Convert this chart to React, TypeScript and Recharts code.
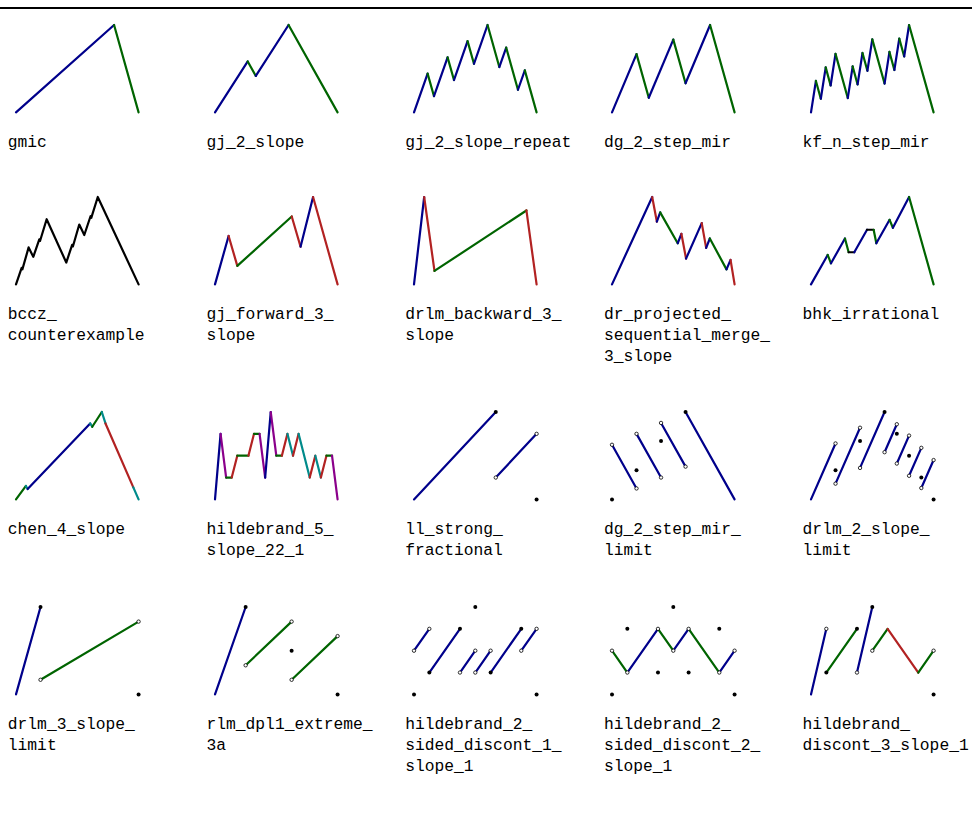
import { ComposedChart, Line, Scatter, XAxis, YAxis } from "recharts";

type P = [number, number];
type S = [number, number, number, number];

// slope classes: a blue, b green, c red, d teal, e purple, k black
const COLORS: Record<string, string> = {
  a: "#00008b",
  b: "#006400",
  c: "#b22222",
  d: "#008b8b",
  e: "#8b008b",
  k: "#000000",
};

// ---- continuous functions: breakpoints + slope class of each piece ----
const gmicPts: P[] = [[0, 0], [0.8, 1], [1, 0]];
const gmicCls = "ab";

const gj2Pts: P[] = [[0, 0], [0.267, 0.583], [0.333, 0.417], [0.6, 1], [1, 0]];
const gj2Cls = "abab";

const gj2RepPts: P[] = [
  [0, 0], [0.111, 0.444], [0.163, 0.185], [0.274, 0.63], [0.326, 0.37],
  [0.437, 0.815], [0.489, 0.556], [0.6, 1], [0.696, 0.519], [0.752, 0.741],
  [0.848, 0.259], [0.904, 0.481], [1, 0],
];
const gj2RepCls = "abababababab";

const dg2Pts: P[] = [[0, 0], [0.2, 0.667], [0.3, 0.167], [0.5, 0.833], [0.6, 0.333], [0.8, 1], [1, 0]];
const dg2Cls = "ababab";

const kfPts: P[] = [
  [0, 0], [0.04, 0.36], [0.08, 0.156], [0.12, 0.515], [0.16, 0.308], [0.2, 0.67],
  [0.3, 0.164], [0.34, 0.526], [0.38, 0.32], [0.42, 0.68], [0.46, 0.476], [0.5, 0.836],
  [0.6, 0.33], [0.64, 0.692], [0.68, 0.485], [0.72, 0.845], [0.76, 0.64], [0.8, 1], [1, 0],
];
const kfCls = "ababababababababab";

const bcczPts: P[] = [
  [0, 0], [0.046, 0.19], [0.052, 0.172], [0.103, 0.423], [0.141, 0.315],
  [0.19, 0.515], [0.196, 0.497], [0.25, 0.746], [0.41, 0.25], [0.458, 0.452],
  [0.464, 0.434], [0.516, 0.685], [0.557, 0.565], [0.608, 0.78], [0.614, 0.762],
  [0.667, 1], [1, 0],
];
const bcczCls = "kkkkkkkkkkkkkkkk";

const gjFwdPts: P[] = [[0, 0], [0.111, 0.554], [0.182, 0.212], [0.626, 0.777], [0.698, 0.431], [0.8, 1], [1, 0]];
const gjFwdCls = "acbcac";

const drlmBackPts: P[] = [[0, 0], [0.083, 1], [0.167, 0.154], [0.917, 0.846], [1, 0]];
const drlmBackCls = "acbc";

const drProjPts: P[] = [
  [0, 0], [0.328, 1], [0.366, 0.717], [0.393, 0.824], [0.536, 0.471], [0.566, 0.579],
  [0.604, 0.295], [0.732, 0.701], [0.768, 0.418], [0.798, 0.525], [0.934, 0.172],
  [0.967, 0.28], [1, 0],
];
const drProjCls = "acabacacabac";

const bhkPts: P[] = [
  [0, 0], [0.136, 0.337], [0.163, 0.241], [0.277, 0.525], [0.307, 0.368], [0.353, 0.368],
  [0.457, 0.625], [0.511, 0.625], [0.533, 0.471], [0.641, 0.739], [0.668, 0.648], [0.8, 1], [1, 0],
];
const bhkCls = "ababkakbabab";

const chenPts: P[] = [
  [0, 0], [0.081, 0.154], [0.095, 0.119], [0.605, 0.869], [0.622, 0.831],
  [0.7, 1], [0.73, 0.869], [0.957, 0.138], [1, 0],
];
const chenCls = "bdadbdcd";

const hb5X = [0, 1, 2, 3, 4, 6, 7, 8, 9, 10, 11, 12, 13, 14, 15, 17, 18, 19, 20, 21, 22];
const hb5Y = [0, 0.75, 0.25, 0.25, 0.5, 0.5, 0.75, 0.75, 0.25, 1, 0.5, 0.5, 0.75, 0.5, 0.75, 0.25, 0.5, 0.25, 0.5, 0.5, 0];
const hb5Cls = "aebcbcbeaebcdcdcdcbe";

// ---- discontinuous functions: pieces, closed dots, open dots ----
const llPieces: S[] = [[0, 0, 0.667, 1], [0.667, 0.25, 1, 0.75]];
const llCls = "aa";
const llClosed: P[] = [[0.667, 1], [1, 0]];
const llOpen: P[] = [[0.667, 0.25], [1, 0.75]];

const dgLimPieces: S[] = [[0, 0.625, 0.2, 0.125], [0.2, 0.75, 0.4, 0.25], [0.4, 0.875, 0.6, 0.375], [0.6, 1, 1, 0]];
const dgLimCls = "aaaa";
const dgLimClosed: P[] = [[0, 0], [0.2, 0.333], [0.4, 0.667], [0.6, 1]];
const dgLimOpen: P[] = [[0, 0.625], [0.2, 0.125], [0.2, 0.75], [0.4, 0.25], [0.4, 0.875], [0.6, 0.375]];

const drlm2Pieces: S[] = [
  [0, 0, 0.2, 0.64], [0.2, 0.18, 0.4, 0.82], [0.4, 0.36, 0.6, 1], [0.6, 0.54, 0.7, 0.86],
  [0.7, 0.41, 0.8, 0.73], [0.8, 0.27, 0.9, 0.59], [0.9, 0.13, 1, 0.45],
];
const drlm2Cls = "aaaaaaa";
const drlm2Closed: P[] = [[0.2, 0.333], [0.4, 0.667], [0.6, 1], [0.7, 0.75], [0.8, 0.5], [0.9, 0.25], [1, 0]];
const drlm2Open: P[] = [
  [0.2, 0.64], [0.2, 0.18], [0.4, 0.82], [0.4, 0.36], [0.6, 0.54], [0.7, 0.86],
  [0.7, 0.41], [0.8, 0.73], [0.8, 0.27], [0.9, 0.59], [0.9, 0.13], [1, 0.45],
];

const drlm3Pieces: S[] = [[0, 0, 0.2, 1], [0.2, 0.167, 1, 0.833]];
const drlm3Cls = "ab";
const drlm3Closed: P[] = [[0.2, 1], [1, 0]];
const drlm3Open: P[] = [[0.2, 0.167], [1, 0.833]];

const rlmPieces: S[] = [[0, 0, 0.25, 1], [0.25, 0.333, 0.625, 0.833], [0.625, 0.167, 1, 0.667]];
const rlmCls = "abb";
const rlmClosed: P[] = [[0.25, 1], [0.625, 0.5], [1, 0]];
const rlmOpen: P[] = [[0.25, 0.333], [0.625, 0.833], [0.625, 0.167], [1, 0.667]];

const hd1Pieces: S[] = [
  [0, 0.5, 0.125, 0.75], [0.125, 0.25, 0.375, 0.75], [0.375, 0.25, 0.5, 0.5],
  [0.5, 0.25, 0.625, 0.5], [0.625, 0.25, 0.875, 0.75], [0.875, 0.5, 1, 0.75],
];
const hd1Cls = "aaaaaa";
const hd1Closed: P[] = [[0, 0], [0.125, 0.25], [0.375, 0.75], [0.5, 1], [0.625, 0.25], [0.875, 0.75], [1, 0]];
const hd1Open: P[] = [[0, 0.5], [0.125, 0.75], [0.375, 0.25], [0.5, 0.5], [0.5, 0.25], [0.625, 0.5], [0.875, 0.5], [1, 0.75]];

const hd2Pieces: S[] = [
  [0, 0.5, 0.125, 0.25], [0.125, 0.25, 0.375, 0.75], [0.375, 0.75, 0.5, 0.5],
  [0.5, 0.5, 0.625, 0.75], [0.625, 0.75, 0.875, 0.25], [0.875, 0.25, 1, 0.5],
];
const hd2Cls = "bababa";
const hd2Closed: P[] = [[0, 0], [0.125, 0.75], [0.375, 0.25], [0.5, 1], [0.625, 0.25], [0.875, 0.75], [1, 0]];
const hd2Open: P[] = [[0, 0.5], [0.125, 0.25], [0.375, 0.75], [0.5, 0.5], [0.625, 0.75], [0.875, 0.25], [1, 0.5]];

const hd3Pieces: S[] = [
  [0, 0, 0.125, 0.75], [0.125, 0.25, 0.375, 0.75], [0.375, 0.25, 0.5, 1],
  [0.5, 0.5, 0.625, 0.75], [0.625, 0.75, 0.875, 0.25], [0.875, 0.25, 1, 0.5],
];
const hd3Cls = "ababcb";
const hd3Closed: P[] = [[0.125, 0.25], [0.375, 0.75], [0.5, 1], [1, 0]];
const hd3Open: P[] = [[0.125, 0.75], [0.375, 0.25], [0.5, 0.5], [1, 0.5]];

const LABELS = [
  "gmic", "gj_2_slope", "gj_2_slope_repeat", "dg_2_step_mir", "kf_n_step_mir",
  "bccz_\ncounterexample", "gj_forward_3_\nslope", "drlm_backward_3_\nslope",
  "dr_projected_\nsequential_merge_\n3_slope", "bhk_irrational",
  "chen_4_slope", "hildebrand_5_\nslope_22_1", "ll_strong_\nfractional",
  "dg_2_step_mir_\nlimit", "drlm_2_slope_\nlimit",
  "drlm_3_slope_\nlimit", "rlm_dpl1_extreme_\n3a", "hildebrand_2_\nsided_discont_1_\nslope_1",
  "hildebrand_2_\nsided_discont_2_\nslope_1", "hildebrand_\ndiscont_3_slope_1",
];

// ---- helpers ----
const join = (pts: P[]): S[] => pts.slice(1).map((p, i) => [pts[i][0], pts[i][1], p[0], p[1]] as S);

type Fn = { segs: S[]; cls: string; closed: P[]; open: P[] };
const cont = (pts: P[], cls: string): Fn => ({ segs: join(pts), cls, closed: [], open: [] });
const disc = (segs: S[], cls: string, closed: P[], open: P[]): Fn => ({ segs, cls, closed, open });

const FUNCS: Fn[] = [
  cont(gmicPts, gmicCls),
  cont(gj2Pts, gj2Cls),
  cont(gj2RepPts, gj2RepCls),
  cont(dg2Pts, dg2Cls),
  cont(kfPts, kfCls),
  cont(bcczPts, bcczCls),
  cont(gjFwdPts, gjFwdCls),
  cont(drlmBackPts, drlmBackCls),
  cont(drProjPts, drProjCls),
  cont(bhkPts, bhkCls),
  cont(chenPts, chenCls),
  cont(hb5X.map((x, i) => [x / 22, hb5Y[i]] as P), hb5Cls),
  disc(llPieces, llCls, llClosed, llOpen),
  disc(dgLimPieces, dgLimCls, dgLimClosed, dgLimOpen),
  disc(drlm2Pieces, drlm2Cls, drlm2Closed, drlm2Open),
  disc(drlm3Pieces, drlm3Cls, drlm3Closed, drlm3Open),
  disc(rlmPieces, rlmCls, rlmClosed, rlmOpen),
  disc(hd1Pieces, hd1Cls, hd1Closed, hd1Open),
  disc(hd2Pieces, hd2Cls, hd2Closed, hd2Open),
  disc(hd3Pieces, hd3Cls, hd3Closed, hd3Open),
];

// merge touching pieces of the same colour into one polyline
function runs(fn: Fn) {
  const out: { color: string; pts: { x: number; y: number }[] }[] = [];
  fn.segs.forEach((s, i) => {
    const c = COLORS[fn.cls[i]];
    const last = out[out.length - 1];
    const lp = last ? last.pts[last.pts.length - 1] : null;
    if (last && last.color === c && lp && lp.x === s[0] && lp.y === s[1]) {
      last.pts.push({ x: s[2], y: s[3] });
    } else {
      out.push({ color: c, pts: [{ x: s[0], y: s[1] }, { x: s[2], y: s[3] }] });
    }
  });
  return out;
}

const PW = 122.6;
const PH = 87.4;
const PAD = 6;
const COL_X = [16.3, 215, 413.7, 612.4, 811.1];
const ROW_Y = [24.5, 197.3, 412.2, 607];

const ClosedDot = (p: any) => <circle cx={p.cx} cy={p.cy} r={2} fill="#000" />;
const OpenDot = (p: any) => (
  <circle cx={p.cx} cy={p.cy} r={1.7} fill="#fff" stroke="#000" strokeWidth={0.8} />
);

function Panel({ fn, left, top }: { fn: Fn; left: number; top: number }) {
  const lines = runs(fn);
  return (
    <div style={{ position: "absolute", left: left - PAD, top: top - PAD }}>
      <ComposedChart
        width={PW + 2 * PAD}
        height={PH + 2 * PAD}
        margin={{ top: PAD, right: PAD, bottom: PAD, left: PAD }}
      >
        <XAxis type="number" dataKey="x" domain={[0, 1]} hide />
        <YAxis type="number" dataKey="y" domain={[0, 1]} hide />
        {lines.map((l, i) => (
          <Line
            key={i}
            data={l.pts}
            dataKey="y"
            type="linear"
            stroke={l.color}
            strokeWidth={2.2}
            strokeLinecap="round"
            strokeLinejoin="round"
            dot={false}
            activeDot={false}
            isAnimationActive={false}
          />
        ))}
        {fn.closed.length > 0 && (
          <Scatter
            data={fn.closed.map((p) => ({ x: p[0], y: p[1] }))}
            dataKey="y"
            shape={ClosedDot}
            isAnimationActive={false}
          />
        )}
        {fn.open.length > 0 && (
          <Scatter
            data={fn.open.map((p) => ({ x: p[0], y: p[1] }))}
            dataKey="y"
            shape={OpenDot}
            isAnimationActive={false}
          />
        )}
      </ComposedChart>
    </div>
  );
}

export default function App() {
  return (
    <div
      style={{
        position: "absolute",
        left: 0,
        top: 0,
        width: 972,
        height: 817,
        overflow: "hidden",
        background: "#fff",
      }}
    >
      <div style={{ position: "absolute", left: 0, top: 7, width: 972, height: 2, background: "#000" }} />
      {FUNCS.map((fn, i) => {
        const left = COL_X[i % 5];
        const top = ROW_Y[Math.floor(i / 5)];
        return (
          <div key={i}>
            <Panel fn={fn} left={left} top={top} />
            <div
              style={{
                position: "absolute",
                left: left - 8.5,
                top: top + PH + 19.6,
                fontFamily: '"Liberation Mono", monospace',
                fontSize: 16.3,
                lineHeight: "21px",
                whiteSpace: "pre",
                color: "#000",
              }}
            >
              {LABELS[i]}
            </div>
          </div>
        );
      })}
    </div>
  );
}
